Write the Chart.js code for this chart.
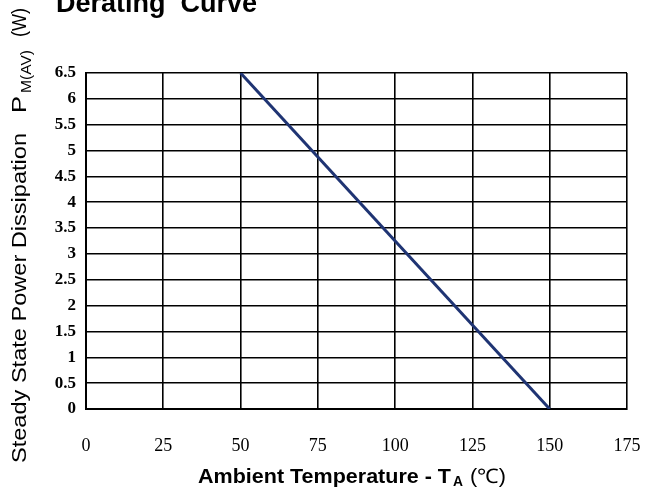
<!DOCTYPE html>
<html>
<head>
<meta charset="utf-8">
<script src="https://cdn.jsdelivr.net/npm/chart.js@4/dist/chart.umd.min.js"></script>
<style>
  html, body { margin: 0; padding: 0; background: #fff; }
  #wrap { width: 650px; height: 488px; }
</style>
</head>
<body>
<div id="wrap"><canvas id="derating" width="650" height="488"></canvas></div>
<script>
// derating curve: power dissipation vs ambient temperature
const temps = [50, 150];
const power = [6.5, 0];
const xTicks = [0, 25, 50, 75, 100, 125, 150, 175];
const yTicks = ['0', '0.5', '1', '1.5', '2', '2.5', '3', '3.5', '4', '4.5', '5', '5.5', '6', '6.5'];

const chartTitle = 'Derating  Curve';
const xTitle = ['Ambient Temperature - T', 'A', ' (\u2103)'];
const yTitle = ['Steady State Power Dissipation', 'P', 'M(AV)', '(W)'];

const SANS = '"Liberation Sans", Arial, sans-serif';
const SERIF = '"Liberation Serif", "Times New Roman", serif';

// draw a piece of text squeezed/stretched to a given length
function fitText(ctx, txt, x, y, len) {
  const w = ctx.measureText(txt).width;
  ctx.save();
  ctx.translate(x, y);
  ctx.scale(len / w, 1);
  ctx.fillText(txt, 0, 0);
  ctx.restore();
}

// titles need subscripts, so they are drawn by hand
const titlesPlugin = {
  id: 'titles',
  afterDraw(chart) {
    const ctx = chart.ctx;
    ctx.save();
    ctx.fillStyle = '#000';
    ctx.textBaseline = 'alphabetic';
    ctx.textAlign = 'left';

    // chart title (cut off at the top in the original)
    ctx.font = 'bold 27px ' + SANS;
    ctx.fillText(chartTitle, 56, 12);

    // x axis title
    const yb = 483;
    ctx.font = 'bold 20px ' + SANS;
    fitText(ctx, xTitle[0], 198, yb, 253);
    ctx.font = 'bold 14px ' + SANS;
    fitText(ctx, xTitle[1], 453, yb + 3, 10);
    ctx.font = '20px ' + SANS;
    fitText(ctx, xTitle[2], 464, yb, 42);

    // y axis title, rotated; positions measured along the text
    ctx.translate(0, 463);
    ctx.rotate(-Math.PI / 2);
    ctx.font = '21px ' + SANS;
    fitText(ctx, yTitle[0], 0, 26, 330);
    fitText(ctx, yTitle[1], 350, 26, 17);
    ctx.font = '14px ' + SANS;
    fitText(ctx, yTitle[2], 370, 31, 43);
    ctx.font = '21px ' + SANS;
    fitText(ctx, yTitle[3], 426, 26, 29);
    ctx.restore();
  }
};

const ctx = document.getElementById('derating').getContext('2d');
new Chart(ctx, {
  type: 'scatter',
  data: {
    datasets: [
      {
        data: temps.map((t, i) => ({ x: t, y: power[i] })),
        showLine: true,
        borderColor: '#1f3473',
        borderWidth: 3,
        pointRadius: 0,
        fill: false
      }
    ]
  },
  options: {
    responsive: false,
    animation: false,
    layout: {
      padding: { left: 0, right: 23, top: 73, bottom: 0 }
    },
    scales: {
      x: {
        type: 'linear',
        min: 0,
        max: 175,
        afterBuildTicks: (axis) => { axis.ticks = xTicks.map(v => ({ value: v })); },
        afterFit: (axis) => {
          axis.height = 79;
          axis.paddingLeft = 0;
          axis.paddingRight = 0;
        },
        ticks: {
          color: '#000',
          padding: 26,
          maxRotation: 0,
          font: { family: SERIF, size: 18 },
          callback: (v) => String(v)
        },
        grid: { color: '#000', lineWidth: 1.6, drawTicks: false },
        border: { color: '#000', width: 2 }
      },
      y: {
        type: 'linear',
        min: 0,
        max: 6.5,
        afterBuildTicks: (axis) => { axis.ticks = yTicks.map(v => ({ value: Number(v) })); },
        afterFit: (axis) => {
          axis.width = 86;
          axis.paddingTop = 0;
          axis.paddingBottom = 0;
        },
        ticks: {
          color: '#000',
          padding: 10,
          font: { family: SERIF, size: 17, weight: 'bold' },
          callback: (v) => yTicks[yTicks.map(Number).indexOf(v)]
        },
        grid: { color: '#000', lineWidth: 1.6, drawTicks: false },
        border: { color: '#000', width: 2 }
      }
    },
    plugins: {
      legend: { display: false },
      tooltip: { enabled: false }
    }
  },
  plugins: [titlesPlugin]
});
</script>
</body>
</html>
